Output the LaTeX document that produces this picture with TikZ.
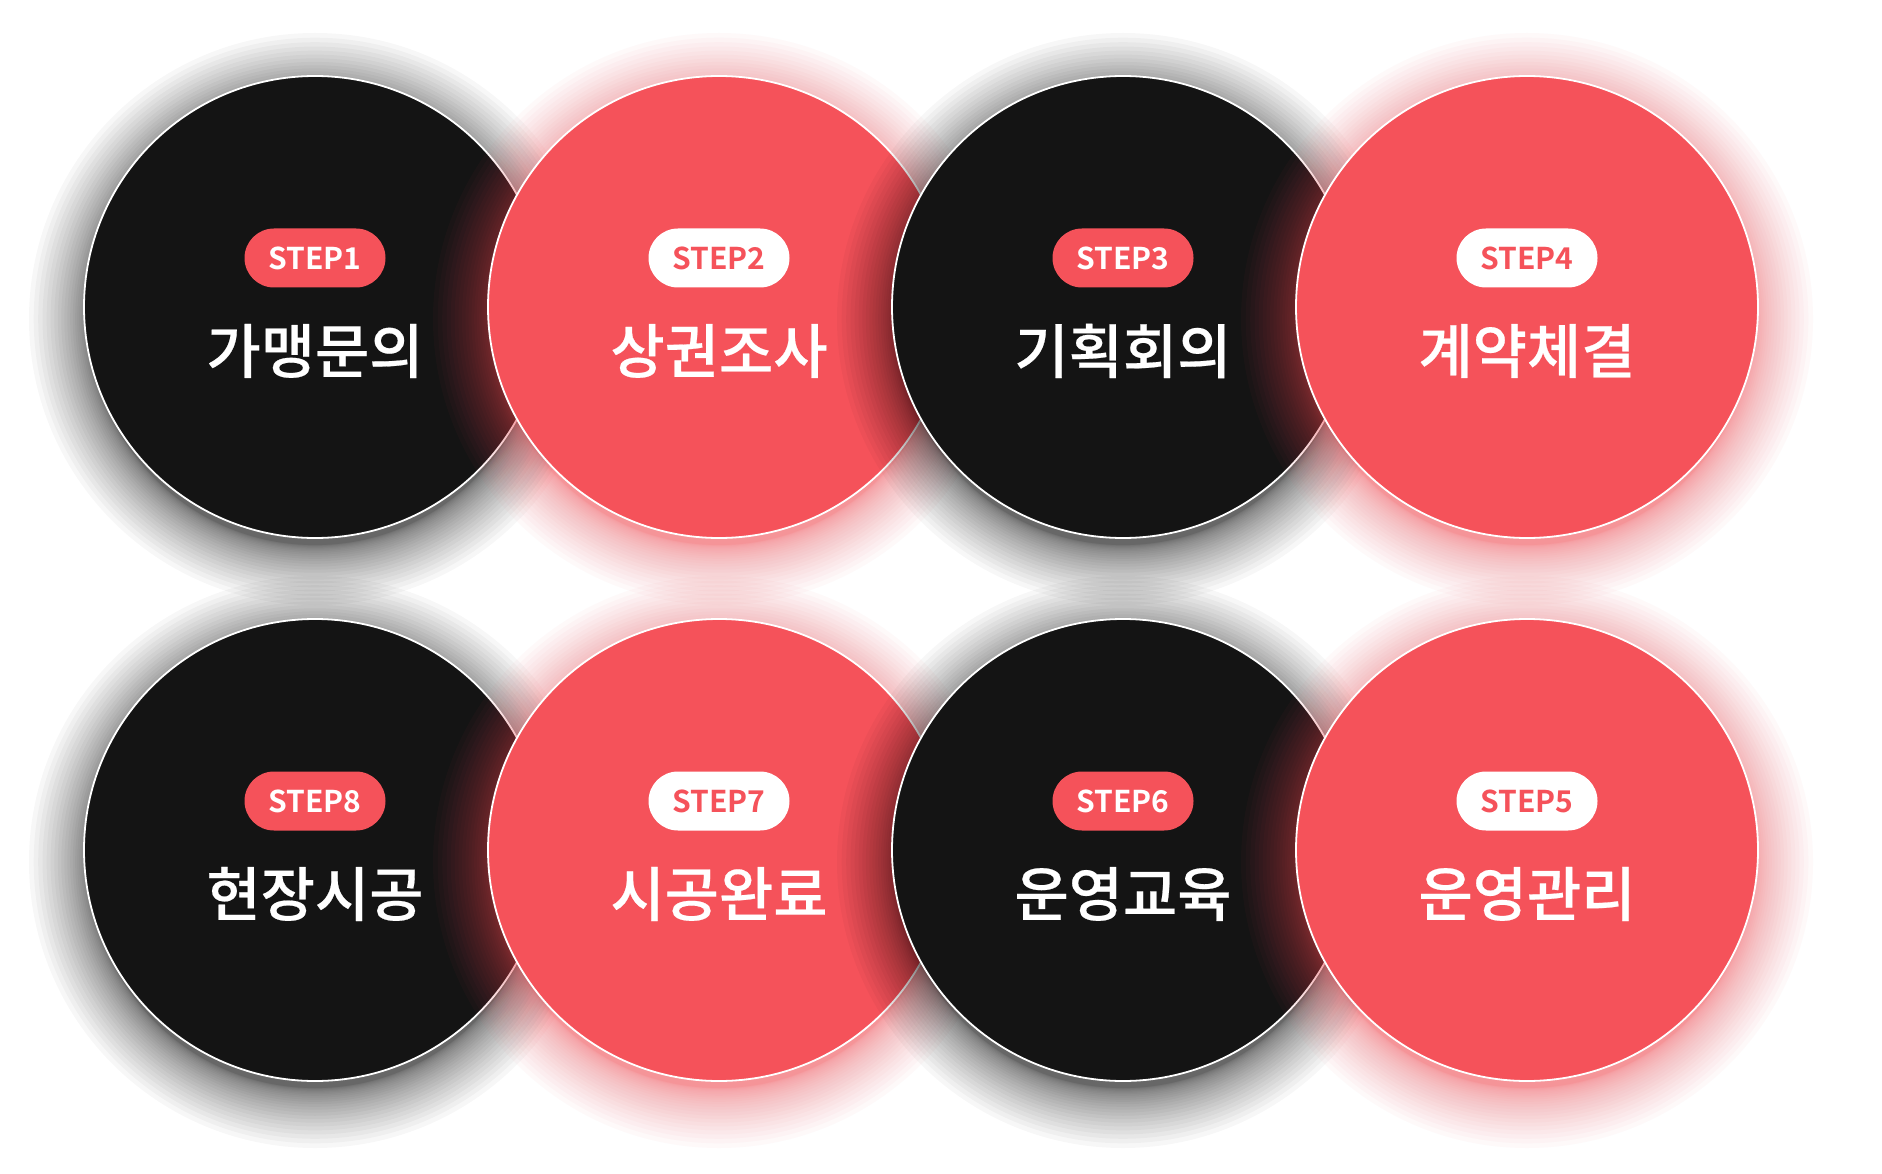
\documentclass[tikz,border=0pt]{standalone}
\usepackage{fontspec}
\newfontfamily\kr{Noto Sans CJK KR Medium}[FakeBold=0.35]
\newfontfamily\krb{Noto Sans CJK KR Bold}
\definecolor{cblack}{HTML}{141414}
\definecolor{cred}{HTML}{F5525A}
\tikzset{
  disc/.style={circle, draw=white, line width=1.8pt, minimum size=462pt, inner sep=0pt},
  blackdisc/.style={disc, fill=cblack},
  reddisc/.style={disc, fill=cred},
  pill/.style={rounded corners=29.5pt, minimum width=141pt, minimum height=59pt, inner sep=0pt, font=\krb\fontsize{30}{30}\selectfont},
  title/.style={text=white, font=\kr\fontsize{59}{62}\selectfont, inner sep=0pt},
}
\begin{document}
\begin{tikzpicture}[x=1pt,y=-1pt]
\fill[white] (0,0) rectangle (1882,1174);
\useasboundingbox (0,0) rectangle (1882,1174);
\foreach \i/\x/\y/\kind/\gc/\pf/\pt/\lab in {
  1/315/307/blackdisc/black/cred/white/가맹문의,
  2/719/307/reddisc/cred/white/cred/상권조사,
  3/1123/307/blackdisc/black/cred/white/기획회의,
  4/1527/307/reddisc/cred/white/cred/계약체결,
  8/315/850/blackdisc/black/cred/white/현장시공,
  7/719/850/reddisc/cred/white/cred/시공완료,
  6/1123/850/blackdisc/black/cred/white/운영교육,
  5/1527/850/reddisc/cred/white/cred/운영관리}
{
  \foreach \k in {0,...,25}{
    \pgfmathsetmacro\d{226+60*(\k/25)^2}
    \fill[\gc, opacity=0.03] (\x,{\y+12}) circle[radius=\d pt];
  }
  \node[\kind] (c\i) at (\x,\y) {};
  \node[pill, fill=\pf, text=\pt] (p\i) at (\x,{\y-49}) {STEP\i};
  \node[title] (t\i) at (\x,{\y+44}) {\lab};
}
\end{tikzpicture}
\end{document}
